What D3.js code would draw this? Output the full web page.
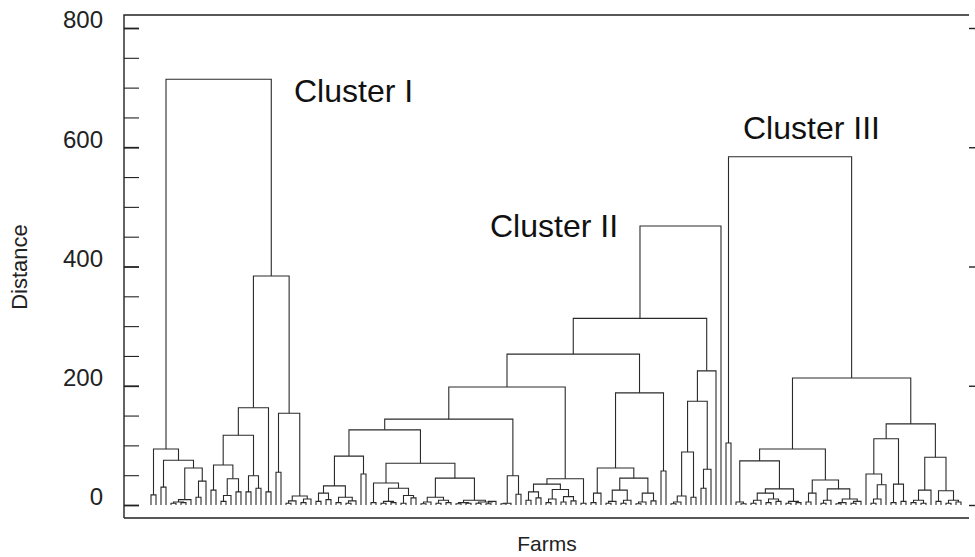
<!DOCTYPE html>
<html>
<head>
<meta charset="utf-8">
<script src="https://cdn.jsdelivr.net/npm/d3@7"></script>
<style>
  body { margin: 0; background: #fff; }
  svg { display: block; font-family: "Liberation Sans", Arial, sans-serif; }
</style>
</head>
<body>
<svg id="chart" width="975" height="557"></svg>
<script>
// each node is [distance, left, right]; 0 stands for a single farm
const clusterILeft = [94, [17, 0, 0], [75, [30, 0, 0], [62, [9, [5, [3, 0, 0], [4, 0, 0]], 0], [40, [13, 0, 0], 0]]]]
const clusterIRight = [384,
  [163, [117, [67, [25, 0, 0], [44, [16, [6, 0, 0], 0], [22, 0, 0]]], [49, [22, 0, 0], [28, 0, 0]]], [22, 0, 0]],
  [154, [55, 0, 0], [15, [7, [3, 0, 0], 0], [10, [4, 0, 0], 0]]]]
const clusterI = [714, clusterILeft, clusterIRight]

const clusterIIM = [82, [32, [20, [6, 0, 0], [9, 0, 0]], [13, [4, 0, 0], [7, [3, 0, 0], 0]]], [52, 0, 0]]
const clusterIIP = [37, [4, 0, 0], [28, [6, [3, 0, 0], [4, 0, 0]], [16, [3, 0, 0], [12, 0, 0]]]]
const clusterIIQ = [45, [13, [5, [2, 0, 0], 0], [8, [3, 0, 0], [4, 0, 0]]], [8, [4, [2, 0, 0], [3, 0, 0]], [5, [3, 0, 0], [6, [2, 0, 0], 0]]]]
const clusterIIK = [49, [3, [2, 0, 0], 0], [18, 0, 0]]
const clusterIII_I = [44, [35, [22, [8, 0, 0], [12, 0, 0]], [26, [10, [4, 0, 0], 0], [14, [5, 0, 0], [7, 0, 0]]]], [3, 0, 0]]
const clusterIIH = [188, [62, [20, [4, 0, 0], 0], [45, [25, [6, [3, 0, 0], 0], [8, [3, 0, 0], 0]], [20, [5, [2, 0, 0], 0], [7, 0, 0]]]], [57, 0, 0]]
const clusterIID = [174, [89, [15, [5, [2, 0, 0], 0], 0], [13, 0, 0]], [60, [28, 0, 0], 0]]
const clusterII = [468,
  [313,
    [253, [198, [144, [126, clusterIIM, [70, clusterIIP, clusterIIQ]], clusterIIK], clusterIII_I], clusterIIH],
    [225, clusterIID, 0]],
  0]

const clusterIIIS = [74, [5, 0, [2, 0, 0]], [27, [20, [8, [3, 0, 0], 0], [10, [4, 0, 0], [6, 0, 0]]], [6, [3, 0, 0], [4, 0, 0]]]]
const clusterIIIU = [42, [20, [5, 0, 0], 0], [27, [8, [3, 0, 0], 0], [10, [4, [2, 0, 0], 0], [6, [3, 0, 0], 0]]]]
const clusterIIIW = [111, [52, 0, [34, [10, [3, 0, 0], 0], 0]], [35, [4, 0, 0], [6, 0, 0]]]
const clusterIIIY = [80, [25, [8, [4, 0, 0], [3, 0, 0]], 0], [24, [6, 0, 0], [8, [3, 0, 0], [5, 0, 0]]]]
const clusterIII = [584, [104, 0, 0], [213, [94, clusterIIIS, clusterIIIU], [136, clusterIIIW, clusterIIIY]]]

const trees = [clusterI, clusterII, clusterIII]
const clusterNames = ["Cluster I", "Cluster II", "Cluster III"]

const yTicks = [0, 50, 100, 150, 200, 250, 300, 350, 400, 450, 500, 550, 600, 650, 700, 750, 800]
const yLabels = [0, 200, 400, 600, 800]

const svg = d3.select('#chart')
const frame = { left: 124, right: 969, top: 15, bottom: 518 }

// build hierarchies and give every farm a running index
const roots = trees.map(t => d3.hierarchy(t, d => Array.isArray(d) ? d.slice(1) : null))
let n = 0
roots.forEach(r => r.leaves().forEach(l => { l.idx = n++ }))
roots.forEach(r => r.eachAfter(d => {
  d.h = Array.isArray(d.data) ? d.data[0] : 0
  if (d.children) d.idx = d3.mean(d.children, c => c.idx)
}))

const x = d3.scaleLinear().domain([0, n - 1]).range([151, 961])
const y = d3.scaleLinear().domain([0, 800]).range([505, 28])

// frame
svg.append('path')
  .attr('d', `M${frame.left},${frame.bottom}V${frame.top}H${frame.right}M${frame.left},${frame.bottom}H${frame.right}`)
  .attr('fill', 'none')
  .attr('stroke', '#222')
  .attr('stroke-width', 1.4)

// inward ticks on the left
svg.append('g')
  .attr('transform', `translate(${frame.left},0)`)
  .call(d3.axisRight(y).tickValues(yTicks).tickSize(15).tickFormat(''))
  .call(g => g.select('.domain').remove())
  .call(g => g.selectAll('line').attr('stroke', '#222').attr('stroke-width', d => yLabels.includes(d) ? 1.8 : 1.1))

// short ticks on the right
svg.append('g')
  .attr('transform', `translate(${frame.right + 6},0)`)
  .call(d3.axisLeft(y).tickValues(yLabels).tickSize(6).tickFormat(''))
  .call(g => g.select('.domain').remove())
  .call(g => g.selectAll('line').attr('stroke', '#222').attr('stroke-width', 1.4))

svg.append('g')
  .selectAll('text')
  .data(yLabels)
  .join('text')
    .attr('x', 103)
    .attr('y', d => y(d) - 8)
    .attr('dy', '0.35em')
    .attr('text-anchor', 'end')
    .attr('font-size', 24)
    .attr('fill', '#222')
    .text(d => d)

// dendrogram links
const links = svg.append('g')
  .attr('fill', 'none')
  .attr('stroke', '#2a2a2a')
  .attr('stroke-width', 1.1)

roots.forEach(r => {
  links.selectAll(null)
    .data(r.descendants().filter(d => d.children))
    .join('path')
      .attr('d', d => {
        const [a, b] = d.children
        return `M${x(a.idx)},${y(a.h)}V${y(d.h)}H${x(b.idx)}V${y(b.h)}`
      })
})

// cluster labels
const labelPos = [[294, 102], [490, 237], [743, 139]]
svg.append('g')
  .selectAll('text')
  .data(clusterNames)
  .join('text')
    .attr('x', (d, i) => labelPos[i][0])
    .attr('y', (d, i) => labelPos[i][1])
    .attr('font-size', 32)
    .attr('fill', '#111')
    .text(d => d)

svg.append('text')
  .attr('transform', `translate(27,267) rotate(-90)`)
  .attr('text-anchor', 'middle')
  .attr('font-size', 22)
  .attr('fill', '#222')
  .text('Distance')

svg.append('text')
  .attr('x', 547)
  .attr('y', 551)
  .attr('text-anchor', 'middle')
  .attr('font-size', 21)
  .attr('fill', '#222')
  .text('Farms')
</script>
</body>
</html>
